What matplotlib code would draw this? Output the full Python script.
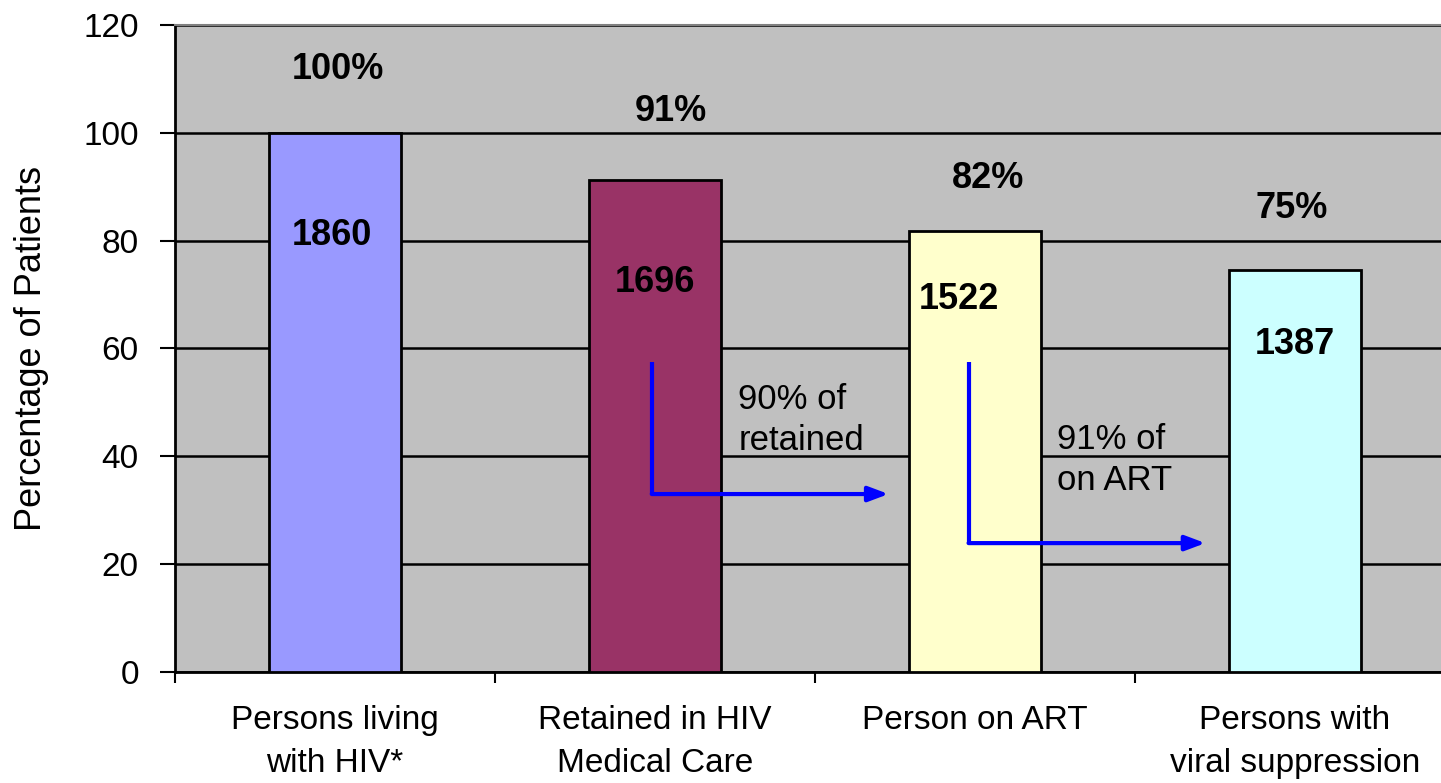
import matplotlib.pyplot as plt
import numpy as np

plt.rcParams['font.family'] = ['Liberation Sans', 'DejaVu Sans']

categories = ["Persons living\nwith HIV*", "Retained in HIV\nMedical Care",
              "Person on ART", "Persons with\nviral suppression"]
percent = [100, 91.2, 81.8, 74.6]
pct_labels = ["100%", "91%", "82%", "75%"]
counts = ["1860", "1696", "1522", "1387"]
colors = ["#9999FF", "#993366", "#FFFFCC", "#CCFFFF"]

# label placement (data coords)
pct_pos = [(0.01, 111.7), (1.05, 103.9), (2.04, 91.6), (2.99, 86.0)]
count_pos = [(-0.01, 80.9), (1.0, 72.2), (1.95, 69.0), (3.0, 60.8)]

x = np.arange(len(categories))

fig = plt.figure(figsize=(14.41, 7.83), dpi=100)
ax = fig.add_axes([0.1214, 0.1418, 0.8883, 0.8263])
ax.set_facecolor("#C0C0C0")

ax.bar(x, percent, width=0.41, color=colors, edgecolor="black", linewidth=2, zorder=3)

ax.set_xlim(-0.5, 3.5)
ax.set_ylim(0, 120)
ax.set_yticks(range(0, 121, 20))
ax.yaxis.grid(True, color="black", linewidth=1.8, zorder=1)
ax.set_axisbelow(True)

ax.set_xticks([-0.5, 0.5, 1.5, 2.5])
ax.set_xticklabels([])
ax.set_xticks(x, minor=True)
ax.set_xticklabels(categories, minor=True, fontsize=24, linespacing=1.48)
ax.tick_params(axis="x", which="major", direction="out", length=8, width=1.5)
ax.tick_params(axis="x", which="minor", length=0, pad=24)
ax.tick_params(axis="y", direction="out", length=11, width=1.5, labelsize=24, pad=15)

for s in ["left", "bottom"]:
    ax.spines[s].set_linewidth(2)
ax.spines["top"].set_color("#808080")
ax.spines["top"].set_linewidth(1.5)
ax.spines["right"].set_visible(False)

ax.set_ylabel("Percentage of Patients", fontsize=26, va="center")
ax.yaxis.set_label_coords(-0.112, 0.5)

for (px, py), t in zip(pct_pos, pct_labels):
    ax.text(px, py, t, ha="center", va="center", fontsize=26, fontweight="bold", zorder=5)
for (cx, cy), t in zip(count_pos, counts):
    ax.text(cx, cy, t, ha="center", va="center", fontsize=26, fontweight="bold", zorder=5)

# flow arrows
arrows = [(0.99, 57.5, 33.0, 1.73), (1.98, 57.5, 23.9, 2.72)]
for ax0, ytop, ybot, xtip in arrows:
    ax.plot([ax0, ax0], [ytop, ybot], color="blue", linewidth=3, zorder=6,
            solid_capstyle="butt")
    ax.annotate("", xy=(xtip, ybot), xytext=(ax0, ybot), zorder=6,
                arrowprops=dict(arrowstyle="-|>,head_length=1.2,head_width=0.45",
                                color="blue", linewidth=3, shrinkA=0, shrinkB=0))

ax.text(1.26, 46.7, "90% of\nretained", ha="left", va="center", fontsize=25,
        linespacing=1.3, zorder=5)
ax.text(2.256, 39.3, "91% of\non ART", ha="left", va="center", fontsize=25,
        linespacing=1.3, zorder=5)

fig.savefig("out.png", dpi=100)
